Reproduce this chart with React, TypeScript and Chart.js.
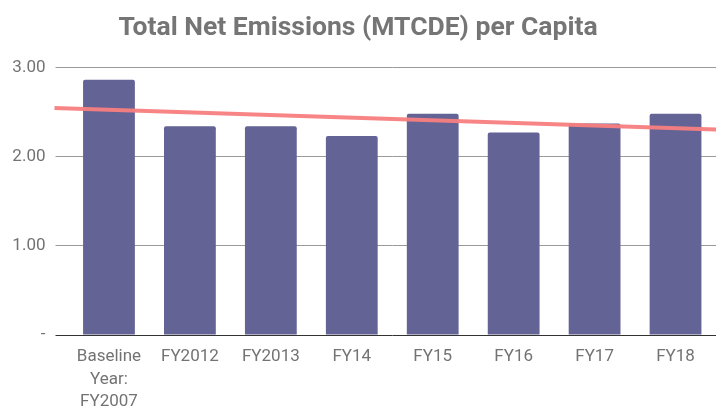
import React, { useEffect, useRef } from "react";
import { Chart, registerables } from "chart.js";

Chart.register(...registerables);

const categories: (string | string[])[] = [
  ["Baseline", "Year:", "FY2007"],
  "FY2012",
  "FY2013",
  "FY14",
  "FY15",
  "FY16",
  "FY17",
  "FY18",
];
const emissionsPerCapita = [2.86, 2.34, 2.34, 2.23, 2.48, 2.27, 2.37, 2.48];
const yTicks = [0, 1, 2, 3];
const titleText = "Total Net Emissions (MTCDE) per Capita";

const trendPlugin = {
  id: "trendline",
  afterDatasetsDraw(chart: any) {
    const data: number[] = chart.data.datasets[0].data;
    const n = data.length;
    const mx = (n - 1) / 2;
    const my = data.reduce((a, b) => a + b, 0) / n;
    let sxy = 0;
    let sxx = 0;
    data.forEach((v, i) => {
      sxy += (i - mx) * (v - my);
      sxx += (i - mx) * (i - mx);
    });
    const slope = sxy / sxx;
    const xs = chart.scales.x;
    const ys = chart.scales.y;
    const p0 = xs.getPixelForValue(0);
    const step = xs.getPixelForValue(1) - p0;
    const left = chart.chartArea.left - 14;
    const right = chart.chartArea.right;
    const i0 = (left - p0) / step;
    const i1 = (right - p0) / step;
    const ctx = chart.ctx;
    ctx.save();
    ctx.beginPath();
    ctx.moveTo(left, ys.getPixelForValue(my + slope * (i0 - mx)));
    ctx.lineTo(right, ys.getPixelForValue(my + slope * (i1 - mx)));
    ctx.strokeStyle = "rgba(248,126,126,0.95)";
    ctx.lineWidth = 4;
    ctx.stroke();
    ctx.restore();
  },
};

export default function App() {
  const ref = useRef<HTMLCanvasElement | null>(null);
  useEffect(() => {
    document.body.style.margin = "0";
    if (!ref.current) return;
    const chart = new Chart(ref.current, {
      type: "bar",
      data: {
        labels: categories,
        datasets: [
          {
            data: emissionsPerCapita,
            backgroundColor: "#636396",
            borderRadius: 2,
            borderSkipped: "bottom",
            barPercentage: 0.64,
            categoryPercentage: 1,
          },
        ],
      },
      options: {
        animation: false,
        responsive: false,
        maintainAspectRatio: false,
        layout: { padding: { top: 0, right: 0, bottom: 0, left: 0 } },
        plugins: {
          legend: { display: false },
          tooltip: { enabled: false },
          title: {
            display: true,
            text: titleText,
            color: "#757575",
            font: { family: "Roboto", size: 26.5, weight: "bold" },
            padding: { top: 12.5, bottom: 23 },
          },
        },
        scales: {
          x: {
            grid: { display: false },
            border: { display: false },
            ticks: {
              color: "#737373",
              font: { family: "Roboto", size: 17, lineHeight: 1.32 },
              maxRotation: 0,
              autoSkip: false,
              padding: 3,
            },
            afterFit(scale: any) {
              scale.height = 73;
            },
          },
          y: {
            min: 0,
            max: 3,
            afterBuildTicks(scale: any) {
              scale.ticks = yTicks.map((v) => ({ value: v }));
            },
            grid: {
              color: (c: any) => (c.tick && c.tick.value === 0 ? "#333333" : "#9a9a9a"),
              tickColor: (c: any) => (c.tick && c.tick.value === 0 ? "#333333" : "#9a9a9a"),
              tickLength: 13,
              lineWidth: 1,
            },
            border: { display: false },
            ticks: {
              color: "#737373",
              font: { family: "Roboto", size: 17 },
              padding: 10,
              callback: (v: any) => (Number(v) === 0 ? "-" : Number(v).toFixed(2)),
            },
            afterFit(scale: any) {
              scale.width = 68.5;
            },
          },
        },
      },
      plugins: [trendPlugin],
    });
    return () => chart.destroy();
  }, []);
  return <canvas ref={ref} width={716} height={408} style={{ display: "block" }} />;
}
